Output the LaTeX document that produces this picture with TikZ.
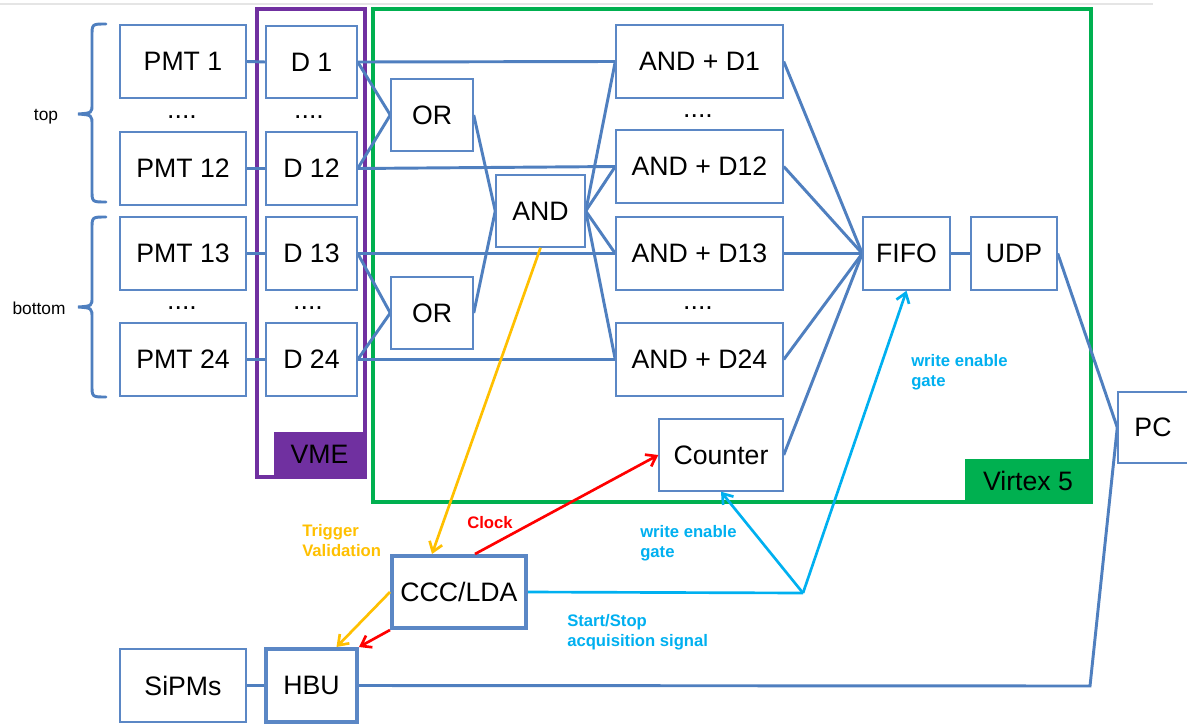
\documentclass[tikz,border=0pt]{standalone}
\usepackage{fontspec}
\setmainfont{Liberation Sans}
\usetikzlibrary{calc,arrows.meta}
\definecolor{bxblue}{HTML}{5B87C5}
\definecolor{lnblue}{HTML}{4F7FBF}
\definecolor{vmepurple}{HTML}{7030A0}
\definecolor{vgreen}{HTML}{00B050}
\definecolor{tyellow}{HTML}{FFC000}
\definecolor{tred}{HTML}{FF0000}
\definecolor{tcyan}{HTML}{00B0F0}
\pgfdeclarelayer{bg}
\pgfsetlayers{bg,main}
\tikzset{
 rect/.style n args={4}{at={({(#1+#3)/2},{(#2+#4)/2})}, minimum width={(#3-#1)*0.75pt}, minimum height={(#4-#2)*0.75pt}},
 box/.style={draw=bxblue, line width=1.1pt, fill=white, inner sep=0pt, font=\fontsize{20}{24}\selectfont},
 tbox/.style={box, line width=3pt},
 conn/.style={draw=lnblue, line width=2.2pt},
 bracepath/.style={draw=lnblue, line width=2.2pt, line cap=round},
 lab/.style={font=\fontsize{12.5}{15}\selectfont\bfseries, inner sep=0pt, anchor=north west, align=left},
 sidelab/.style={font=\fontsize{13}{15}\selectfont, inner sep=0pt},
 arr/.style={line width=2pt, -{Straight Barb[length=7pt, width=10pt]}},
 dotlab/.style={font=\fontsize{20}{24}\selectfont, inner sep=0pt},
 frame/.style={line width=2.6pt, inner sep=0pt},
 tag/.style={inner sep=0pt, font=\fontsize{20}{24}\selectfont},
}
\begin{document}
\begin{tikzpicture}[x=0.75pt, y=-0.75pt]
\clip (0,0) rectangle (1187,724);
\begin{pgfonlayer}{bg}
\fill[white] (0,0) rectangle (1187,724);
\draw[black!10, line width=0.8pt] (0,4) -- (1153,4);
\node[frame, draw=vmepurple, rect={257}{9}{365}{477}] (vmeframe) {};
\node[frame, draw=vgreen, rect={373}{9}{1091}{502}] (vxframe) {};
\end{pgfonlayer}
\node[tag, fill=vmepurple, rect={274}{432}{365}{477}] (vme) {VME};
\node[tag, fill=vgreen, rect={965}{459}{1091}{502}] (vx) {Virtex 5};

% PMTs
\node[box, rect={120}{25}{246}{98}] (p1) {PMT 1};
\node[box, rect={120}{132}{246}{205}] (p12) {PMT 12};
\node[box, rect={120}{217}{246}{290}] (p13) {PMT 13};
\node[box, rect={120}{323}{246}{396}] (p24) {PMT 24};
% discriminators
\node[box, rect={266}{26}{357}{98}] (d1) {D 1};
\node[box, rect={266}{132}{357}{205}] (d12) {D 12};
\node[box, rect={266}{217}{357}{290}] (d13) {D 13};
\node[box, rect={266}{323}{357}{396}] (d24) {D 24};
% logic
\node[box, rect={391}{79}{473}{151}] (or1) {OR};
\node[box, rect={391}{277}{473}{349}] (or2) {OR};
\node[box, rect={496}{175}{585}{247}] (and) {AND};
\node[box, rect={616}{25}{783}{98}] (a1) {AND + D1};
\node[box, rect={616}{130}{783}{203}] (a12) {AND + D12};
\node[box, rect={616}{217}{783}{290}] (a13) {AND + D13};
\node[box, rect={616}{323}{783}{396}] (a24) {AND + D24};
\node[box, rect={659}{419}{783}{491}] (cnt) {Counter};
\node[box, rect={863}{217}{950}{290}] (fifo) {FIFO};
\node[box, rect={971}{217}{1057}{290}] (udp) {UDP};
\node[box, rect={1118}{392}{1188}{463}] (pc) {PC};
\node[tbox, rect={392}{556}{526}{628}] (ccc) {CCC/LDA};
\node[tbox, rect={266}{649}{357}{722}] (hbu) {HBU};
\node[box, rect={120}{649}{246}{722}] (sipm) {SiPMs};

% dots
\node[dotlab] (dt1) at (182,117) {....};
\node[dotlab] (dt2) at (309,117) {....};
\node[dotlab] (dt3) at (698,116) {....};
\node[dotlab] (dt4) at (182,308) {....};
\node[dotlab] (dt5) at (308,308) {....};
\node[dotlab] (dt6) at (698,308) {....};

% braces and side labels
\draw[bracepath] (106,24) .. controls (92,24) .. (92,36) -- (92,104) .. controls (92,113) .. (78,114) .. controls (92,115) .. (92,125) -- (92,190) .. controls (92,202) .. (106,202);
\draw[bracepath] (106,217) .. controls (92,217) .. (92,229) -- (92,297) .. controls (92,306) .. (78,307) .. controls (92,308) .. (92,318) -- (92,385) .. controls (92,397) .. (106,397);
\node[sidelab] (toplab) at (46,117) {top};
\node[sidelab] (botlab) at (39,308) {bottom};

\coordinate (split) at (803,593);
\coordinate (pcc) at (1090,686);

\begin{pgfonlayer}{bg}
\draw[conn] (p1.east) -- (d1.west);
\draw[conn] (p12.east) -- (d12.west);
\draw[conn] (p13.east) -- (d13.west);
\draw[conn] (p24.east) -- (d24.west);
\draw[conn] (sipm.east) -- (hbu.west);
\draw[conn] (d1.east) -- (a1.west);
\draw[conn] (d12.east) -- (a12.west);
\draw[conn] (d13.east) -- (a13.west);
\draw[conn] (d24.east) -- (a24.west);
\draw[conn] (d1.east) -- (or1.west);
\draw[conn] (d12.east) -- (or1.west);
\draw[conn] (d13.east) -- (or2.west);
\draw[conn] (d24.east) -- (or2.west);
\draw[conn] (or1.east) -- (and.west);
\draw[conn] (or2.east) -- (and.west);
\draw[conn] (and.east) -- (a1.west);
\draw[conn] (and.east) -- (a12.west);
\draw[conn] (and.east) -- (a13.west);
\draw[conn] (and.east) -- (a24.west);
\draw[conn] (a1.east) -- (fifo.west);
\draw[conn] (a12.east) -- (fifo.west);
\draw[conn] (a13.east) -- (fifo.west);
\draw[conn] (a24.east) -- (fifo.west);
\draw[conn] (cnt.east) -- (fifo.west);
\draw[conn] (fifo.east) -- (udp.west);
\draw[conn] (udp.east) -- (pc.west);
\draw[conn] (hbu.east) -- (pcc) -- (pc.west);
\end{pgfonlayer}

% coloured signals
\draw[arr, tyellow] (and.south) -- ($(ccc.north)+(-27,0)$);
\draw[arr, tred] ($(ccc.north)+(16,0)$) -- (cnt.west);
\draw[arr, tyellow] (ccc.west) -- ($(hbu.north)+(25,0)$);
\draw[arr, tred] (ccc.south west) -- (hbu.north east);
\draw[tcyan, line width=2pt] (ccc.east) -- (split);
\draw[arr, tcyan] (split) -- (fifo.south);
\draw[arr, tcyan] (split) -- (cnt.south);

% labels
\node[lab, text=tyellow] (lbtrig) at (302,524) {Trigger\\Validation};
\node[lab, text=tred] (lbclk) at (467,516) {Clock};
\node[lab, text=tcyan] (lbwe1) at (640,525) {write enable\\gate};
\node[lab, text=tcyan] (lbwe2) at (911,354) {write enable\\gate};
\node[lab, text=tcyan] (lbss) at (567,614) {Start/Stop\\acquisition signal};
\end{tikzpicture}
\end{document}
